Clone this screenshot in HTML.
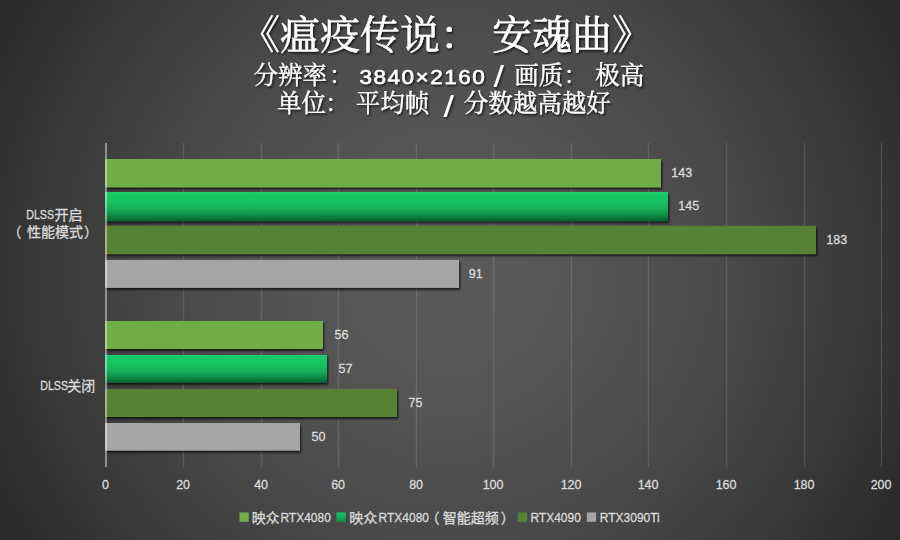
<!DOCTYPE html>
<html lang="zh-CN"><head><meta charset="utf-8"><title>《瘟疫传说：安魂曲》 3840×2160 极高画质 平均帧</title>
<style>
html,body{margin:0;padding:0;background:#2a2a2a}
body{width:900px;height:540px;overflow:hidden;font-family:"Liberation Sans",sans-serif}
svg{display:block;position:absolute;left:0;top:0}
text{font-family:"Liberation Sans",sans-serif;fill:#d9d9d9}
.t{fill:#fff}
.k1{stroke:#fff;stroke-width:.45px}
.k2{stroke:#fff;stroke-width:.3px}
.lb{fill:#dcdcdc;stroke:#dcdcdc;stroke-width:.3px}
.lb rect{stroke:none}
.cs{font-family:"Liberation Serif","Noto Serif CJK SC",serif}
.cn{font-family:"Liberation Sans","Noto Sans CJK SC",sans-serif}
</style></head><body>
<svg width="900" height="540" viewBox="0 0 900 540">
<defs>
<radialGradient id="bg" gradientUnits="userSpaceOnUse" cx="450" cy="270" r="540">
<stop offset="0" stop-color="#595959"/><stop offset=".12" stop-color="#585858"/><stop offset=".267" stop-color="#545454"/><stop offset=".476" stop-color="#4b4b4b"/><stop offset=".624" stop-color="#424242"/><stop offset=".806" stop-color="#353535"/><stop offset=".963" stop-color="#292929"/><stop offset="1" stop-color="#262626"/>
</radialGradient>
<linearGradient id="g2" x1="0" y1="0" x2="0" y2="1">
<stop offset="0" stop-color="#1ed16e"/><stop offset=".06" stop-color="#17ca66"/><stop offset=".35" stop-color="#15c261"/><stop offset=".55" stop-color="#13b059"/><stop offset=".75" stop-color="#10964b"/><stop offset=".9" stop-color="#0c7439"/><stop offset="1" stop-color="#096030"/>
</linearGradient>
<linearGradient id="g2l" x1="0" y1="0" x2="0" y2="1">
<stop offset="0" stop-color="#16c965"/><stop offset="1" stop-color="#0e8f47"/>
</linearGradient>
<filter id="bs" x="-5%" y="-30%" width="110%" height="170%"><feDropShadow dx="1.1" dy="1.9" stdDeviation="1" flood-color="#000" flood-opacity=".72"/></filter>
<filter id="ts" x="-5%" y="-20%" width="110%" height="150%"><feDropShadow dx="1.2" dy="1.6" stdDeviation="1.1" flood-color="#000" flood-opacity=".75"/></filter>
</defs>
<rect width="900" height="540" fill="url(#bg)"/>
<path d="M183.5 143 V467 M261.5 143 V467 M338.5 143 V467 M416.5 143 V467 M493.5 143 V467 M571.5 143 V467 M648.5 143 V467 M726.5 143 V467 M804.5 143 V467 M881.5 143 V467" stroke="#fff" stroke-opacity=".125" stroke-width="1.4" fill="none"/>
<g filter="url(#bs)">
<rect x="105" y="159" width="556.0" height="28.3" fill="#70ad47"/>
<rect x="105" y="192" width="563.0" height="29.3" fill="url(#g2)"/>
<rect x="105" y="225.8" width="711.0" height="28.3" fill="#548235"/>
<rect x="105" y="259.9" width="354.0" height="28" fill="#a5a5a5"/>
<rect x="105" y="321" width="218.0" height="28" fill="#70ad47"/>
<rect x="105" y="355" width="222.0" height="28" fill="url(#g2)"/>
<rect x="105" y="389" width="292.0" height="28" fill="#548235"/>
<rect x="105" y="423" width="195.0" height="27.6" fill="#a5a5a5"/>
</g>
<path d="M106 143 V467" stroke="#fff" stroke-opacity=".43" stroke-width="2" fill="none"/>
<g class="lb">
<text font-size="12.5" x="671.30" y="176.85">143</text>
<text font-size="12.5" x="678.30" y="210.35">145</text>
<text font-size="12.5" x="826.30" y="243.65">183</text>
<text font-size="12.5" x="468.80" y="277.60">91</text>
<text font-size="12.5" x="334.50" y="338.70">56</text>
<text font-size="12.5" x="338.50" y="372.70">57</text>
<text font-size="12.5" x="408.50" y="406.70">75</text>
<text font-size="12.5" x="311.50" y="440.50">50</text>
</g>
<g class="lb">
<text text-anchor="middle" font-size="12.5" x="105.60" y="488.50">0</text>
<text text-anchor="middle" font-size="12.5" x="183.10" y="488.50">20</text>
<text text-anchor="middle" font-size="12.5" x="261.10" y="488.50">40</text>
<text text-anchor="middle" font-size="12.5" x="338.10" y="488.50">60</text>
<text text-anchor="middle" font-size="12.5" x="416.10" y="488.50">80</text>
<text text-anchor="middle" font-size="12.5" x="493.10" y="488.50">100</text>
<text text-anchor="middle" font-size="12.5" x="571.10" y="488.50">120</text>
<text text-anchor="middle" font-size="12.5" x="648.10" y="488.50">140</text>
<text text-anchor="middle" font-size="12.5" x="726.10" y="488.50">160</text>
<text text-anchor="middle" font-size="12.5" x="804.10" y="488.50">180</text>
<text text-anchor="middle" font-size="12.5" x="881.10" y="488.50">200</text>
</g>
<g class="t" filter="url(#ts)">
<text class="t k1 cs" font-size="40" y="48.80"><tspan x="240">《</tspan><tspan x="280.06">瘟疫传说</tspan><tspan x="440">：</tspan><tspan x="491.96">安魂曲</tspan><tspan x="612">》</tspan></text>
<text class="t k2 cs" font-size="24.5" y="84.30"><tspan x="253.57">分辨率</tspan><tspan x="328.7">：</tspan></text>
<text class="t" font-size="20.8" stroke="#fff" stroke-width=".55" letter-spacing="1.4" transform="translate(359.60 83.80) scale(1.08 1)">3840×2160</text>
<text class="t" font-size="29" transform="translate(493.40 87.40) scale(1.3 1)">/</text>
<text class="t k2 cs" font-size="24.5" y="84.30"><tspan x="514.35">画质</tspan><tspan x="563.5">：</tspan><tspan x="595.25">极高</tspan></text>
<text class="t k2 cs" font-size="24.5" y="112.20"><tspan x="277.07">单位</tspan><tspan x="325">：</tspan><tspan x="355.67">平均帧</tspan></text>
<text class="t" font-size="29" transform="translate(443.40 116.50) scale(1.3 1)">/</text>
<text class="t k2 cs" font-size="24.5" x="463.67" y="112.20">分数越高越好</text>
</g>
<g class="lb">
<text font-size="13.33" transform="translate(26.20 219.10) scale(0.8 1)">DLSS</text>
<text class="cn" font-size="14" x="54.57" y="219.80">开启</text>
<text class="cn" font-size="14" y="237.00"><tspan x="7.57">（</tspan><tspan x="26.91">性能模式</tspan><tspan x="83.96">）</tspan></text>
<text font-size="13.33" transform="translate(40.20 390.00) scale(0.8 1)">DLSS</text>
<text class="cn" font-size="14" x="67.33" y="390.80">关闭</text>
</g>
<g class="lb">
<rect x="239.5" y="512.5" width="9.3" height="9.3" fill="#70ad47"/>
<text class="cn" font-size="14" x="251.64" y="522.90">映众</text>
<text font-size="13.33" transform="translate(280.40 522.20) scale(0.9 1)">RTX4080</text>
<rect x="336.5" y="512.5" width="9.3" height="9.3" fill="url(#g2l)"/>
<text class="cn" font-size="14" x="349.24" y="522.90">映众</text>
<text font-size="13.33" transform="translate(378.60 522.20) scale(0.9 1)">RTX4080</text>
<text class="cn" font-size="14" y="522.90"><tspan x="425.57">（</tspan><tspan x="442.74">智能超频</tspan><tspan x="500.86">）</tspan></text>
<rect x="517.8" y="512.5" width="9.3" height="9.3" fill="#548235"/>
<text font-size="13.33" transform="translate(530.40 522.20) scale(0.9 1)">RTX4090</text>
<rect x="586.8" y="512.5" width="9.3" height="9.3" fill="#a5a5a5"/>
<text font-size="13.33" transform="translate(599.80 522.20) scale(0.9 1)">RTX3090Ti</text>
</g>
</svg></body></html>
